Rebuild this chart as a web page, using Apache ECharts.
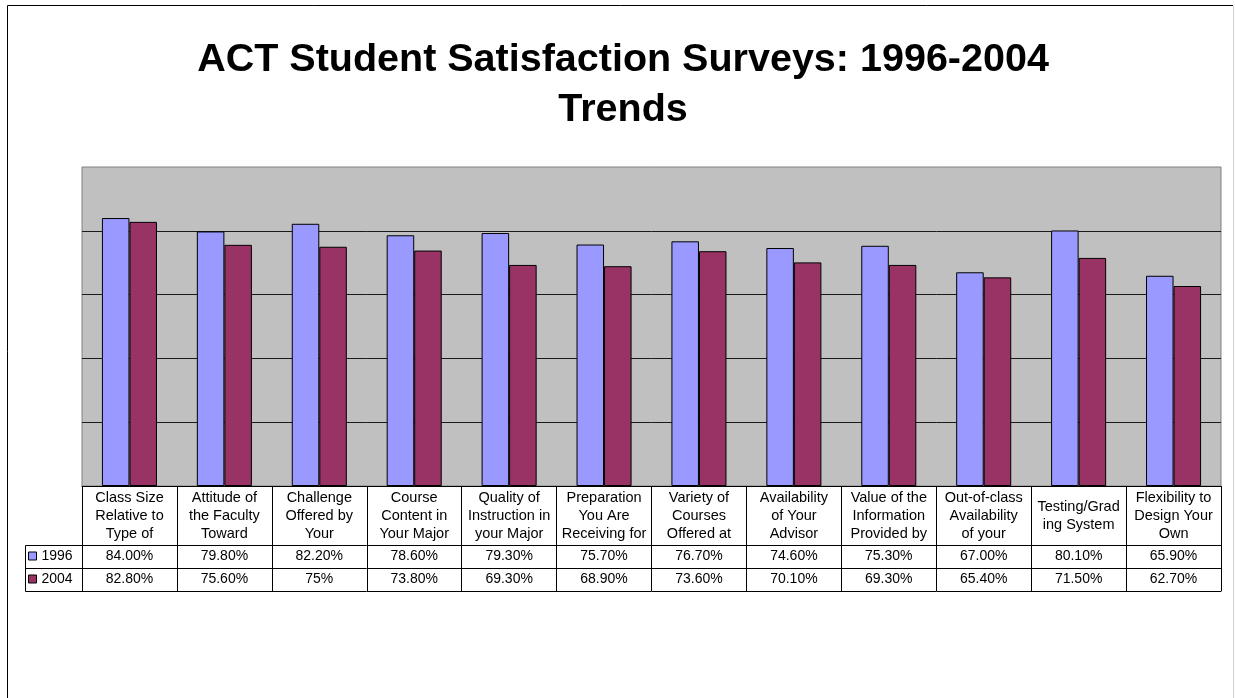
<!DOCTYPE html>
<html>
<head>
<meta charset="utf-8">
<script src="https://cdn.jsdelivr.net/npm/echarts@6/dist/echarts.min.js"></script>
<style>
html,body{margin:0;padding:0;background:#fff;}
#chart{width:1235px;height:698px;}
</style>
</head>
<body>
<div id="chart"></div>
<script>
const categories = [
  'Class Size\nRelative to\nType of',
  'Attitude of\nthe Faculty\nToward',
  'Challenge\nOffered by\nYour',
  'Course\nContent in\nYour Major',
  'Quality of\nInstruction in\nyour Major',
  'Preparation\nYou Are\nReceiving for',
  'Variety of\nCourses\nOffered at',
  'Availability\nof Your\nAdvisor',
  'Value of the\nInformation\nProvided by',
  'Out-of-class\nAvailability\nof your',
  'Testing/Grad\ning System',
  'Flexibility to\nDesign Your\nOwn'
];
const seriesNames = ['1996', '2004'];
const values1996 = [0.840, 0.798, 0.822, 0.786, 0.793, 0.757, 0.767, 0.746, 0.753, 0.670, 0.801, 0.659];
const values2004 = [0.828, 0.756, 0.750, 0.738, 0.693, 0.689, 0.736, 0.701, 0.693, 0.654, 0.715, 0.627];
const labels1996 = ['84.00%','79.80%','82.20%','78.60%','79.30%','75.70%','76.70%','74.60%','75.30%','67.00%','80.10%','65.90%'];
const labels2004 = ['82.80%','75.60%','75%','73.80%','69.30%','68.90%','73.60%','70.10%','69.30%','65.40%','71.50%','62.70%'];
const yTicks = [0, 0.2, 0.4, 0.6, 0.8, 1.0];

const FONT = '"Liberation Sans", Arial, sans-serif';
const colors = ['#9999FF', '#993366'];
const chart = echarts.init(document.getElementById('chart'));

function rowAxis(offset, labels) {
  return {
    type: 'category', gridIndex: 0, position: 'bottom', offset: offset,
    data: categories,
    axisLine: { show: true, lineStyle: { color: '#000', width: 1 } },
    axisTick: { show: false },
    splitLine: { show: false },
    axisLabel: labels ? {
      show: true, interval: 0, margin: 11.5, verticalAlign: 'middle',
      fontFamily: FONT, fontSize: 14, color: '#000',
      formatter: (v, i) => labels[i]
    } : { show: false }
  };
}

chart.setOption({
  animation: false,
  backgroundColor: '#fff',
  title: {
    text: 'ACT Student Satisfaction Surveys: 1996-2004\nTrends',
    left: 618, textAlign: 'center', top: 30,
    textStyle: { fontFamily: FONT, fontSize: 39.5, fontWeight: 'bold', color: '#000', lineHeight: 50 }
  },
  legend: {
    data: seriesNames,
    orient: 'vertical', left: 28, top: 549,
    itemWidth: 8, itemHeight: 8, itemGap: 9, padding: 0,
    icon: 'rect',
    textStyle: { fontFamily: FONT, fontSize: 14, color: '#000', lineHeight: 14 },
    itemStyle: { borderColor: '#000', borderWidth: 1 }
  },
  grid: {
    left: 82, right: 14, top: 167, bottom: 212,
    show: true, backgroundColor: '#C0C0C0', borderColor: '#808080', borderWidth: 1
  },
  xAxis: [
    {
      type: 'category', gridIndex: 0, position: 'bottom',
      data: categories,
      axisLine: { show: true, lineStyle: { color: '#000', width: 1 } },
      axisTick: { show: true, interval: 0, length: 105, lineStyle: { color: '#000', width: 1 } },
      axisLabel: {
        show: true, interval: 0, margin: 29.5, verticalAlign: 'middle',
        fontFamily: FONT, fontSize: 14.5, lineHeight: 18, color: '#000', align: 'center'
      }
    },
    rowAxis(59, labels1996),
    rowAxis(82, labels2004),
    rowAxis(105, null)
  ],
  yAxis: {
    type: 'value', min: yTicks[0], max: yTicks[yTicks.length - 1], interval: 0.2,
    axisLine: { show: false }, axisTick: { show: false }, axisLabel: { show: false },
    splitLine: { show: true, showMaxLine: false, lineStyle: { color: '#1a1a1a', width: 1 } }
  },
  series: [
    {
      name: seriesNames[0], type: 'bar', xAxisIndex: 0, data: values1996,
      barGap: '0%', barCategoryGap: '42%',
      itemStyle: { color: colors[0], borderColor: '#000', borderWidth: 1 }
    },
    {
      name: seriesNames[1], type: 'bar', xAxisIndex: 0, data: values2004,
      barGap: '0%', barCategoryGap: '42%',
      itemStyle: { color: colors[1], borderColor: '#000', borderWidth: 1 }
    }
  ],
  graphic: [
    { type: 'line', shape: { x1: 7.5, y1: 5.5, x2: 1233, y2: 5.5 }, style: { stroke: '#000', lineWidth: 1 } },
    { type: 'line', shape: { x1: 7.5, y1: 5.5, x2: 7.5, y2: 698 }, style: { stroke: '#000', lineWidth: 1 } },
    { type: 'line', shape: { x1: 1233.5, y1: 5.5, x2: 1233.5, y2: 698 }, style: { stroke: '#d0d0d0', lineWidth: 1 } },
    { type: 'line', shape: { x1: 25.5, y1: 545.5, x2: 25.5, y2: 591.5 }, style: { stroke: '#000', lineWidth: 1 } },
    { type: 'line', shape: { x1: 25.5, y1: 545.5, x2: 82, y2: 545.5 }, style: { stroke: '#000', lineWidth: 1 } },
    { type: 'line', shape: { x1: 25.5, y1: 568.5, x2: 82, y2: 568.5 }, style: { stroke: '#000', lineWidth: 1 } },
    { type: 'line', shape: { x1: 25.5, y1: 591.5, x2: 82, y2: 591.5 }, style: { stroke: '#000', lineWidth: 1 } }
  ]
});
</script>
</body>
</html>
